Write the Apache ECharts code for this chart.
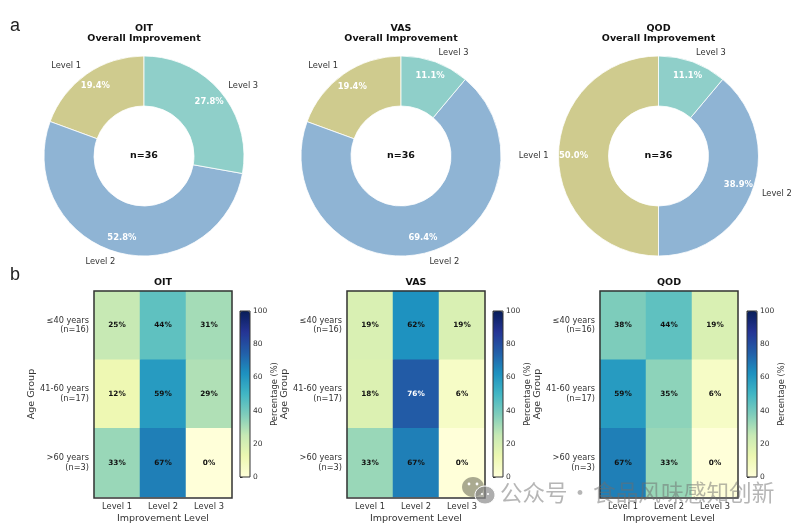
<!DOCTYPE html>
<html>
<head>
<meta charset="utf-8">
<style>html,body{margin:0;padding:0;background:#fff}#main{width:800px;height:525px}</style>
<script src="https://cdn.jsdelivr.net/npm/echarts@6/dist/echarts.min.js"></script>
</head>
<body>
<div id="main"></div>
<script>
// Assessment methods and shared category labels
const methods = ['OIT', 'VAS', 'QOD'];
const levels = ['Level 1', 'Level 2', 'Level 3'];
const ageGroups = ['≤40 years\n(n=16)', '41-60 years\n(n=17)', '>60 years\n(n=3)'];
const colorbarTicks = [0, 20, 40, 60, 80, 100];

// Overall improvement shares (%), ordered Level 1, 2, 3
const overallOIT = [19.4, 52.8, 27.8];
const overallVAS = [19.4, 69.4, 11.1];
const overallQOD = [50.0, 38.9, 11.1];

// Percentages per age group (rows) and level (columns)
const ageOIT = [[25, 44, 31], [12, 59, 29], [33, 67, 0]];
const ageVAS = [[19, 62, 19], [18, 76, 6], [33, 67, 0]];
const ageQOD = [[38, 44, 19], [59, 35, 6], [67, 33, 0]];

const overall = [overallOIT, overallVAS, overallQOD];
const byAge = [ageOIT, ageVAS, ageQOD];

const levelColors = ['#cfcb8e', '#8fb4d4', '#8fcfc9'];
const ylGnBu = ['#ffffd9', '#edf8b1', '#c7e9b4', '#7fcdbb', '#41b6c4', '#1d91c0', '#225ea8', '#253494', '#081d58'];
const FONT = '"DejaVu Sans"';
const INK = '#333';

// Panel layout
const pieX = [144, 401, 658.5], pieY = 156, pieR = 100, pieHole = 50;
const heatX = [94, 347, 600], heatY = 291, heatW = 138, heatH = 207;
const barX = [240, 493, 747], barY = 311, barW = 10, barH = 166;

const title = [], series = [], grid = [], xAxis = [], yAxis = [], visualMap = [], graphic = [];

const text = (x, y, str, size, extra) => ({
  type: 'text', x, y, z: 20, silent: true,
  style: Object.assign({ text: str, fontFamily: FONT, fontSize: size, fill: INK, align: 'center', verticalAlign: 'middle' }, extra)
});
const frame = (x, y, w, h, lw) => ({
  type: 'rect', z: 15, silent: true,
  shape: { x, y, width: w, height: h },
  style: { fill: 'none', stroke: INK, lineWidth: lw }
});

methods.forEach((m, i) => {
  const center = [pieX[i], pieY];
  title.push({
    text: m + '\nOverall Improvement', left: pieX[i], top: 23, textAlign: 'center', padding: 0,
    textStyle: { fontFamily: FONT, fontSize: 9.5, fontWeight: 'bold', color: '#111', lineHeight: 10.5 }
  });
  // Ring with the level names outside it
  series.push({
    type: 'pie', center, radius: [pieHole, pieR], startAngle: 90, clockwise: false,
    silent: true, avoidLabelOverlap: false, animation: false,
    data: levels.map((name, k) => ({ name, value: overall[i][k], itemStyle: { color: levelColors[k] } })),
    itemStyle: { borderColor: '#fff', borderWidth: 0.8 },
    label: { show: true, position: 'outside', distanceToLabelLine: 0, formatter: '{b}', fontFamily: FONT, fontSize: 8.3, color: INK },
    labelLine: { show: false, length: 10, length2: 0 }
  });
  // Unfilled ring that places the percentages near the outer edge
  series.push({
    type: 'pie', center, radius: [64, pieR], startAngle: 90, clockwise: false,
    silent: true, avoidLabelOverlap: false, animation: false,
    data: levels.map((name, k) => ({ name, value: overall[i][k] })),
    itemStyle: { color: 'rgba(0,0,0,0)' },
    label: {
      show: true, position: 'inside', fontFamily: FONT, fontSize: 8.4, fontWeight: 'bold', color: '#fff',
      formatter: p => p.value.toFixed(1) + '%'
    },
    labelLine: { show: false }
  });
  graphic.push(text(pieX[i], pieY, 'n=36', 9.5, { fontWeight: 'bold', fill: '#111' }));

  // Heatmap grid
  const hg = grid.length;
  grid.push({ left: heatX[i], top: heatY, width: heatW, height: heatH });
  xAxis.push({
    type: 'category', gridIndex: hg, data: levels, name: 'Improvement Level', nameLocation: 'middle', nameGap: 17,
    nameTextStyle: { fontFamily: FONT, fontSize: 9.5, color: INK },
    axisLine: { show: false }, axisTick: { alignWithLabel: true, length: 3, lineStyle: { color: INK } },
    axisLabel: { fontFamily: FONT, fontSize: 8.3, color: INK, margin: 5.5, interval: 0 }, splitLine: { show: false }
  });
  yAxis.push({
    type: 'category', gridIndex: hg, data: ageGroups, inverse: true, name: 'Age Group', nameLocation: 'middle', nameGap: 56.5,
    nameRotate: 90, nameTextStyle: { fontFamily: FONT, fontSize: 9.5, color: INK },
    axisLine: { show: false }, axisTick: { alignWithLabel: true, length: 3, lineStyle: { color: INK } },
    axisLabel: { fontFamily: FONT, fontSize: 8.2, color: INK, margin: 5, interval: 0, align: 'right', lineHeight: 9.5, padding: [16, 0, 0, 0] },
    splitLine: { show: false }
  });
  const cells = [];
  byAge[i].forEach((row, r) => row.forEach((v, c) => cells.push({
    value: [c, r, v],
    label: { color: v > 70 ? '#fff' : '#111' }
  })));
  const heatIndex = series.length;
  series.push({
    type: 'heatmap', xAxisIndex: hg, yAxisIndex: hg, data: cells, silent: true, animation: false,
    label: { show: true, fontFamily: FONT, fontSize: 7.3, fontWeight: 'bold', formatter: p => p.value[2] + '%' }
  });
  graphic.push(frame(heatX[i], heatY, heatW, heatH, 1.5));
  graphic.push(text(heatX[i] + heatW / 2, 283, m, 9.5, { fontWeight: 'bold', fill: '#111' }));

  // Colour scale with its own tick axis
  visualMap.push({
    type: 'continuous', seriesIndex: heatIndex, min: 0, max: 100, left: barX[i], top: barY, padding: 0,
    itemWidth: barW, itemHeight: barH, text: ['', ''], textGap: 0, calculable: false, realtime: false, hoverLink: false,
    inRange: { color: ylGnBu }, textStyle: { fontSize: 1 }
  });
  const bg = grid.length;
  grid.push({ left: barX[i], top: barY, width: barW, height: barH });
  xAxis.push({ type: 'value', gridIndex: bg, show: false, min: 0, max: 1 });
  yAxis.push({
    type: 'value', gridIndex: bg, position: 'right', min: colorbarTicks[0], max: colorbarTicks[colorbarTicks.length - 1], interval: 20,
    name: 'Percentage (%)', nameLocation: 'middle', nameGap: 18, nameRotate: 90,
    nameTextStyle: { fontFamily: FONT, fontSize: 8.3, color: INK },
    axisLine: { show: false }, axisTick: { show: true, length: 2.5, lineStyle: { color: INK } },
    axisLabel: { fontFamily: FONT, fontSize: 7.5, color: INK, margin: 3 }, splitLine: { show: false }
  });
  graphic.push(frame(barX[i], barY, barW, barH, 1));
});

// Panel letters
graphic.push(text(15, 26, 'a', 18, { fontFamily: '"Liberation Sans"', fill: '#222' }));
graphic.push(text(15, 275, 'b', 18, { fontFamily: '"Liberation Sans"', fill: '#222' }));

// Account mark along the lower edge
const markGrey = 'rgba(125,125,105,0.65)';
const markText = { fontFamily: '"Noto Sans CJK SC"', fill: 'rgba(110,110,110,0.5)', align: 'left' };
const circle = (cx, cy, r, fill) => ({ type: 'circle', z: 18, silent: true, shape: { cx, cy, r }, style: { fill } });
graphic.push({ type: 'ellipse', z: 18, silent: true, shape: { cx: 473, cy: 487, rx: 11, ry: 10 }, style: { fill: markGrey } });
graphic.push({ type: 'ellipse', z: 18, silent: true, shape: { cx: 485, cy: 495, rx: 10, ry: 9 }, style: { fill: 'rgba(140,140,140,0.7)', stroke: '#fff', lineWidth: 1 } });
graphic.push(circle(469, 484, 1.4, '#fff'), circle(477, 484, 1.4, '#fff'), circle(482, 494, 1.1, '#fff'), circle(488, 494, 1.1, '#fff'));
graphic.push(text(500, 492, '公众号', 22.5, markText));
graphic.push(text(580, 492, '·', 22.5, Object.assign({}, markText, { align: 'center' })));
graphic.push(text(593, 492, '食品风味感知创新', 22.7, markText));

const chart = echarts.init(document.getElementById('main'), null, { renderer: 'canvas' });
chart.setOption({
  backgroundColor: '#fff', animation: false, title, grid, xAxis, yAxis, visualMap, series, graphic: { elements: graphic }
});
</script>
</body>
</html>
